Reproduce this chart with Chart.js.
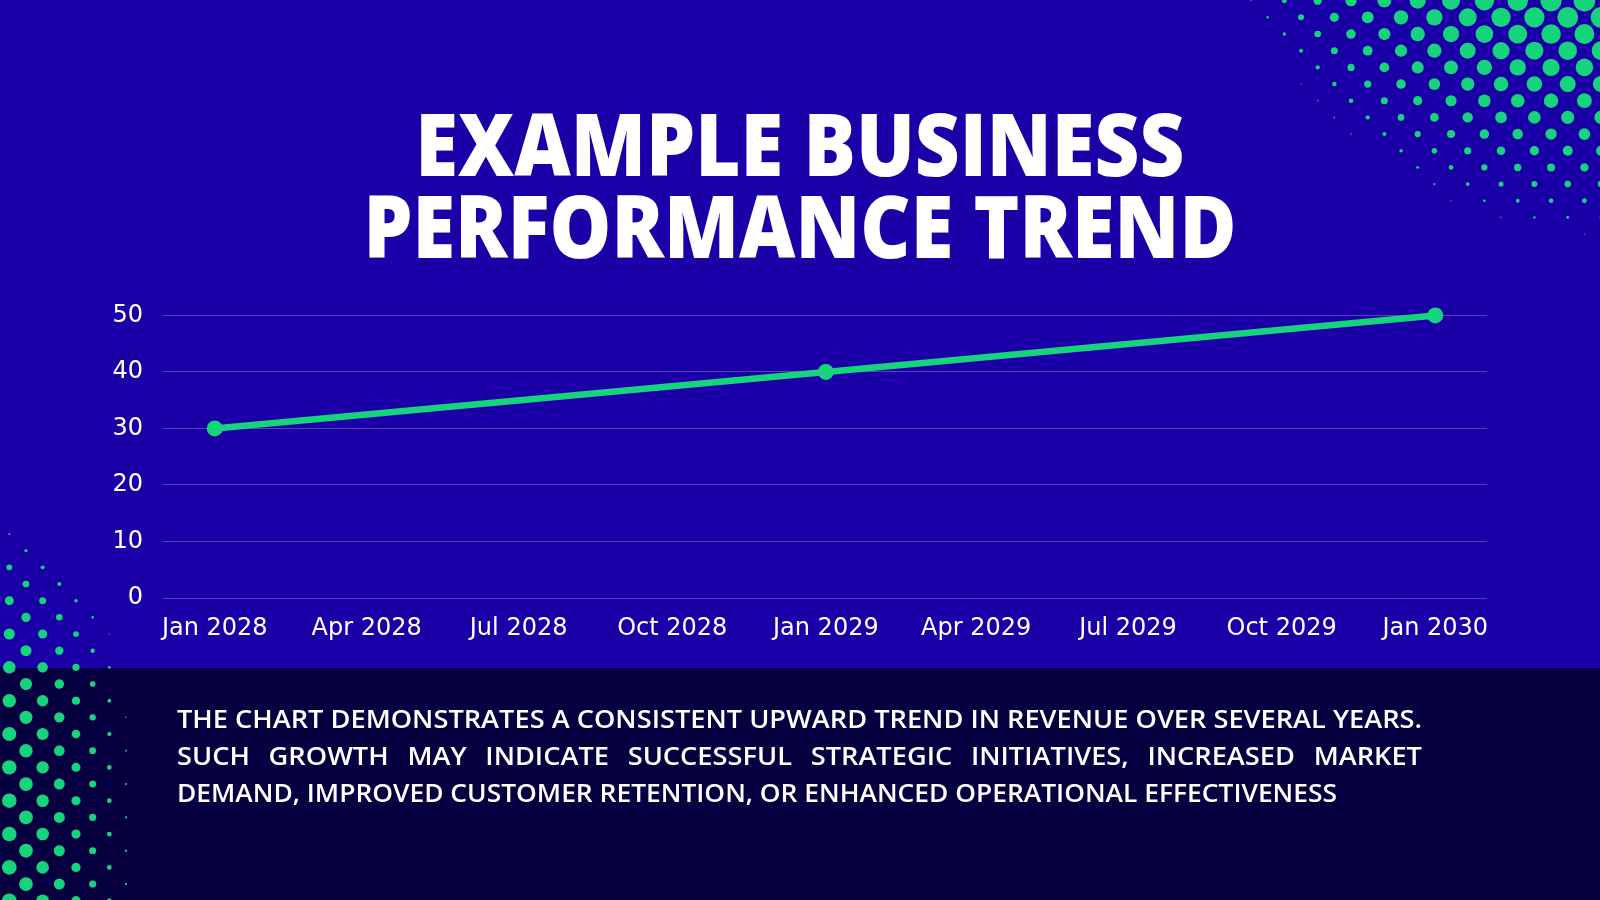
<!DOCTYPE html>
<html>
<head>
<meta charset="utf-8">
<script src="https://cdn.jsdelivr.net/npm/chart.js@4.4.1/dist/chart.umd.min.js"></script>
<style>
  html, body { margin: 0; padding: 0; }
  body {
    width: 1600px; height: 900px; overflow: hidden; position: relative;
    background: #1b00a8; font-family: "Open Sans", sans-serif; color: #fff;
  }
  #band { position: absolute; left: 0; top: 668px; width: 1600px; height: 232px; background: #070040; }
  #deco { position: absolute; left: 0; top: 0; }
  .title {
    position: absolute; left: 0; width: 1600px; text-align: center;
    font-weight: 800; font-size: 87px; line-height: 82px; height: 82px; white-space: nowrap;
  }
  .title span { display: inline-block; transform-origin: center; }
  /* le haut de la zone de tracé tombe à y=315 (padding auto des ticks ~34px) */
  #chartBox { position: absolute; left: 80px; top: 281px; width: 1440px; height: 379px; }
  #note {
    position: absolute; left: 177px; top: 700px; width: 1245px;
    font-weight: 600; font-size: 26px; line-height: 37px;
  }
  #note div { white-space: nowrap; transform-origin: left top; }
  #note span { display: inline-block; white-space: nowrap; transform-origin: left top; }
  #note .just { text-align: justify; text-align-last: justify; white-space: normal; }
</style>
</head>
<body>
<div id="band"></div>
<canvas id="deco" width="1600" height="900"></canvas>

<div class="title" style="top:101px"><span id="t1">EXAMPLE BUSINESS</span></div>
<div class="title" style="top:183px"><span id="t2">PERFORMANCE TREND</span></div>

<div id="chartBox"><canvas id="trend"></canvas></div>

<div id="note">
  <div><span id="n1">THE CHART DEMONSTRATES A CONSISTENT UPWARD TREND IN REVENUE OVER SEVERAL YEARS.</span></div>
  <div id="n2" class="just">SUCH GROWTH MAY INDICATE SUCCESSFUL STRATEGIC INITIATIVES, INCREASED MARKET</div>
  <div><span id="n3">DEMAND, IMPROVED CUSTOMER RETENTION, OR ENHANCED OPERATIONAL EFFECTIVENESS</span></div>
</div>

<script>
// Données
const dates = ['2028-01-01', '2029-01-01', '2030-01-01'];
const revenue = [30, 40, 50];

const tickDates = ['2028-01-01', '2028-04-01', '2028-07-01', '2028-10-01', '2029-01-01',
                   '2029-04-01', '2029-07-01', '2029-10-01', '2030-01-01'];
const tickLabels = ['Jan 2028', 'Apr 2028', 'Jul 2028', 'Oct 2028', 'Jan 2029',
                    'Apr 2029', 'Jul 2029', 'Oct 2029', 'Jan 2030'];
const yTicks = [0, 10, 20, 30, 40, 50];

const axisStart = '2027-12-01';
const axisEnd = '2030-02-01';

const GREEN = '#16d47b';
const TICK_FONT = { family: 'DejaVu Sans', size: 24 };

// jours depuis le 1er jan 2028 (pas d'adaptateur de dates dispo)
const BASE = Date.UTC(2028, 0, 1);
function toDay(s) {
    return (new Date(s + 'T00:00:00Z').getTime() - BASE) / 86400000;
}

// Décor : trames de points, taille = rmax * (1 - fx - fy)
function drawDots(ctx, ox, oy, cx, cy, ex, px, ey, py, rmax) {
    const step = 16.67;
    for (let j = -2; j < 60; j++) {
        for (let i = -2; i < 60; i++) {
            if ((i + j) % 2 !== 0) continue;
            const x = ox + i * step, y = oy + j * step;
            if (x < -12 || x > 1612 || y < -12 || y > 912) continue;
            const f = 1 - Math.pow(Math.abs(x - cx) / ex, px) - Math.pow(Math.abs(y - cy) / ey, py);
            const r = rmax * f;
            if (r < 0.6) continue;
            ctx.beginPath();
            ctx.arc(x, y, r, 0, Math.PI * 2);
            ctx.fill();
        }
    }
}

function initDeco() {
    const ctx = document.getElementById('deco').getContext('2d');
    ctx.fillStyle = GREEN;
    drawDots(ctx, 1251, 0.7, 1600, 0, 360, 2, 245, 1.3, 10.8);
    drawDots(ctx, 9.3, 534, 0, 900, 140, 1.6, 380, 4, 7.4);
}

// Ajuste la largeur des textes
function fitTo(id, w) {
    const el = document.getElementById(id);
    const s = w / el.getBoundingClientRect().width;
    el.style.transform = 'scaleX(' + s + ')';
    return s;
}

function fitTexts() {
    fitTo('t1', 769);
    fitTo('t2', 873);
    const s = fitTo('n1', 1245);
    fitTo('n3', 1160);
    // ligne 2 justifiée : même compression que la 1re
    const n2 = document.getElementById('n2');
    n2.style.width = (1245 / s) + 'px';
    n2.style.transform = 'scaleX(' + s + ')';
}

function initChart() {
    const ctx = document.getElementById('trend').getContext('2d');
    new Chart(ctx, {
        type: 'line',
        data: {
            datasets: [{
                label: 'Revenue',
                data: dates.map((d, i) => ({ x: toDay(d), y: revenue[i] })),
                borderColor: GREEN,
                backgroundColor: GREEN,
                borderWidth: 6.5,
                pointRadius: 8,
                pointHoverRadius: 8,
                pointBackgroundColor: GREEN,
                pointBorderWidth: 0,
                tension: 0,
                clip: false
            }]
        },
        options: {
            responsive: true,
            maintainAspectRatio: false,
            animation: false,
            layout: { padding: { top: 0, right: 33, bottom: 0, left: 0 } },
            plugins: { legend: { display: false }, tooltip: { enabled: false } },
            scales: {
                x: {
                    type: 'linear',
                    min: toDay(axisStart),
                    max: toDay(axisEnd),
                    afterBuildTicks: (scale) => {
                        scale.ticks = tickDates.map(d => ({ value: toDay(d) }));
                    },
                    afterFit: (scale) => { scale.height = 62; },
                    grid: { display: false, drawTicks: false },
                    border: { display: false },
                    ticks: {
                        autoSkip: false,
                        maxRotation: 0,
                        padding: 16,
                        color: '#ffffff',
                        font: TICK_FONT,
                        callback: (v) => tickLabels[tickDates.map(toDay).indexOf(v)]
                    }
                },
                y: {
                    min: 0,
                    max: 50,
                    afterBuildTicks: (scale) => {
                        scale.ticks = yTicks.map(v => ({ value: v }));
                    },
                    afterFit: (scale) => { scale.width = 83; },
                    grid: { color: 'rgba(255,255,255,0.25)', lineWidth: 1, drawTicks: false },
                    border: { display: false },
                    ticks: {
                        padding: 20,
                        color: '#ffffff',
                        font: TICK_FONT
                    }
                }
            }
        }
    });
}

document.addEventListener('DOMContentLoaded', function() {
    initDeco();
    fitTexts();
    initChart();
});
</script>
</body>
</html>
